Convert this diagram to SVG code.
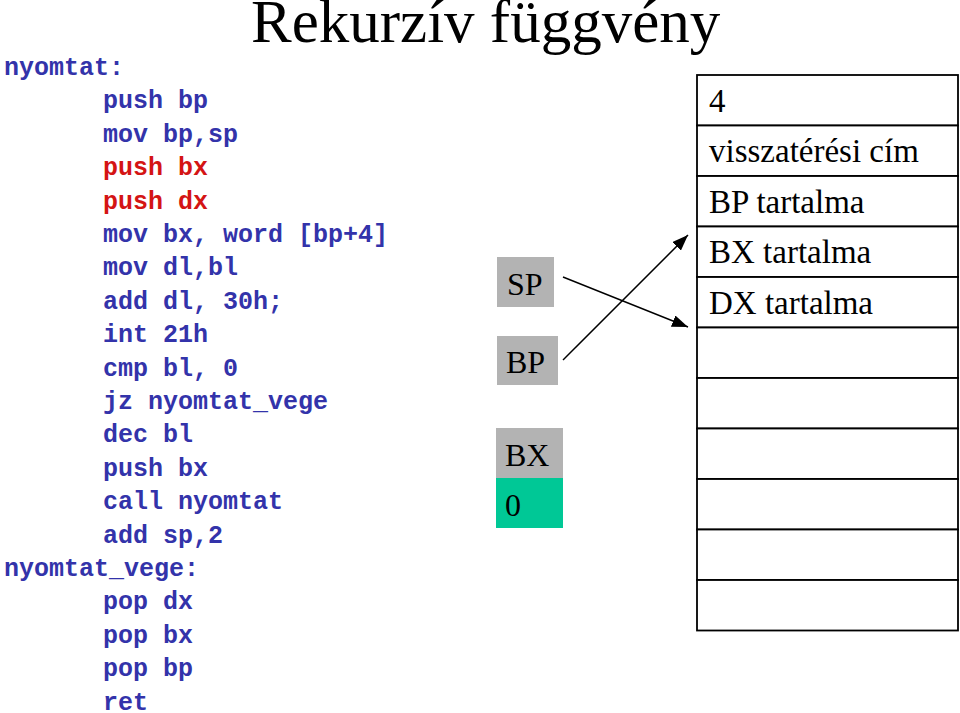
<svg xmlns="http://www.w3.org/2000/svg" width="960" height="713" viewBox="0 0 960 713">
<defs>
<style>
.code{font-family:"Liberation Mono","Courier New",monospace;font-weight:bold;font-size:25px;fill:#3333aa}
.red{fill:#d41414}
.serif{font-family:"Liberation Serif","Times New Roman",serif;fill:#000}
.cell{fill:#fff;stroke:#000;stroke-width:1.8}
.reg{fill:#b3b3b3}
.conn{stroke:#000;stroke-width:1.5;fill:none}
</style>
<marker id="ahl" viewBox="0 0 16 12" markerWidth="16" markerHeight="12" refX="16" refY="6" orient="auto" markerUnits="userSpaceOnUse">
<path d="M0,0 L16,6 L0,12 Z" fill="#000"/>
</marker>
</defs>
<rect width="960" height="713" fill="#fff"/>
<g id="title">
<text class="serif" x="251" y="42" font-size="61">Rekurzív függvény</text>
</g>
<g id="code">
<text class="code" x="4" y="75">nyomtat:</text>
<text class="code" x="103" y="108.4">push bp</text>
<text class="code" x="103" y="141.8">mov bp,sp</text>
<text class="code red" x="103" y="175.2">push bx</text>
<text class="code red" x="103" y="208.6">push dx</text>
<text class="code" x="103" y="242">mov bx, word [bp+4]</text>
<text class="code" x="103" y="275.4">mov dl,bl</text>
<text class="code" x="103" y="308.8">add dl, 30h;</text>
<text class="code" x="103" y="342.2">int 21h</text>
<text class="code" x="103" y="375.6">cmp bl, 0</text>
<text class="code" x="103" y="409">jz nyomtat_vege</text>
<text class="code" x="103" y="442.4">dec bl</text>
<text class="code" x="103" y="475.8">push bx</text>
<text class="code" x="103" y="509.2">call nyomtat</text>
<text class="code" x="103" y="542.6">add sp,2</text>
<text class="code" x="4" y="576">nyomtat_vege:</text>
<text class="code" x="103" y="609.4">pop dx</text>
<text class="code" x="103" y="642.8">pop bx</text>
<text class="code" x="103" y="676.2">pop bp</text>
<text class="code" x="103" y="709.6">ret</text>
</g>
<g id="reg-sp">
<rect class="reg" x="497" y="257" width="57" height="50"/>
<text class="serif" x="507" y="295" font-size="32">SP</text>
</g>
<g id="reg-bp">
<rect class="reg" x="497" y="336" width="61" height="49"/>
<text class="serif" x="506" y="373" font-size="32">BP</text>
</g>
<g id="reg-bx">
<rect class="reg" x="496" y="428" width="67" height="50"/>
<text class="serif" x="505" y="466" font-size="32">BX</text>
</g>
<g id="reg-bx-val">
<rect x="496" y="478" width="67" height="50" fill="#00c896"/>
<text class="serif" x="505" y="516" font-size="32">0</text>
</g>
<g id="stack">
<rect class="cell" x="697" y="75" width="261" height="50.5"/>
<rect class="cell" x="697" y="125.5" width="261" height="50.5"/>
<rect class="cell" x="697" y="176" width="261" height="50.5"/>
<rect class="cell" x="697" y="226.5" width="261" height="50.5"/>
<rect class="cell" x="697" y="277" width="261" height="50.5"/>
<rect class="cell" x="697" y="327.5" width="261" height="50.5"/>
<rect class="cell" x="697" y="378" width="261" height="50.5"/>
<rect class="cell" x="697" y="428.5" width="261" height="50.5"/>
<rect class="cell" x="697" y="479" width="261" height="50.5"/>
<rect class="cell" x="697" y="529.5" width="261" height="50.5"/>
<rect class="cell" x="697" y="580" width="261" height="50.5"/>
<text class="serif" x="709" y="111.5" font-size="33">4</text>
<text class="serif" x="709" y="162" font-size="33">visszatérési cím</text>
<text class="serif" x="709" y="212.5" font-size="33">BP tartalma</text>
<text class="serif" x="709" y="263" font-size="33">BX tartalma</text>
<text class="serif" x="709" y="313.5" font-size="33">DX tartalma</text>
</g>
<g id="connectors">
<line class="conn" x1="563" y1="277" x2="688" y2="327" marker-end="url(#ahl)"/>
<line class="conn" x1="563" y1="360" x2="688" y2="235" marker-end="url(#ahl)"/>
</g>
</svg>
